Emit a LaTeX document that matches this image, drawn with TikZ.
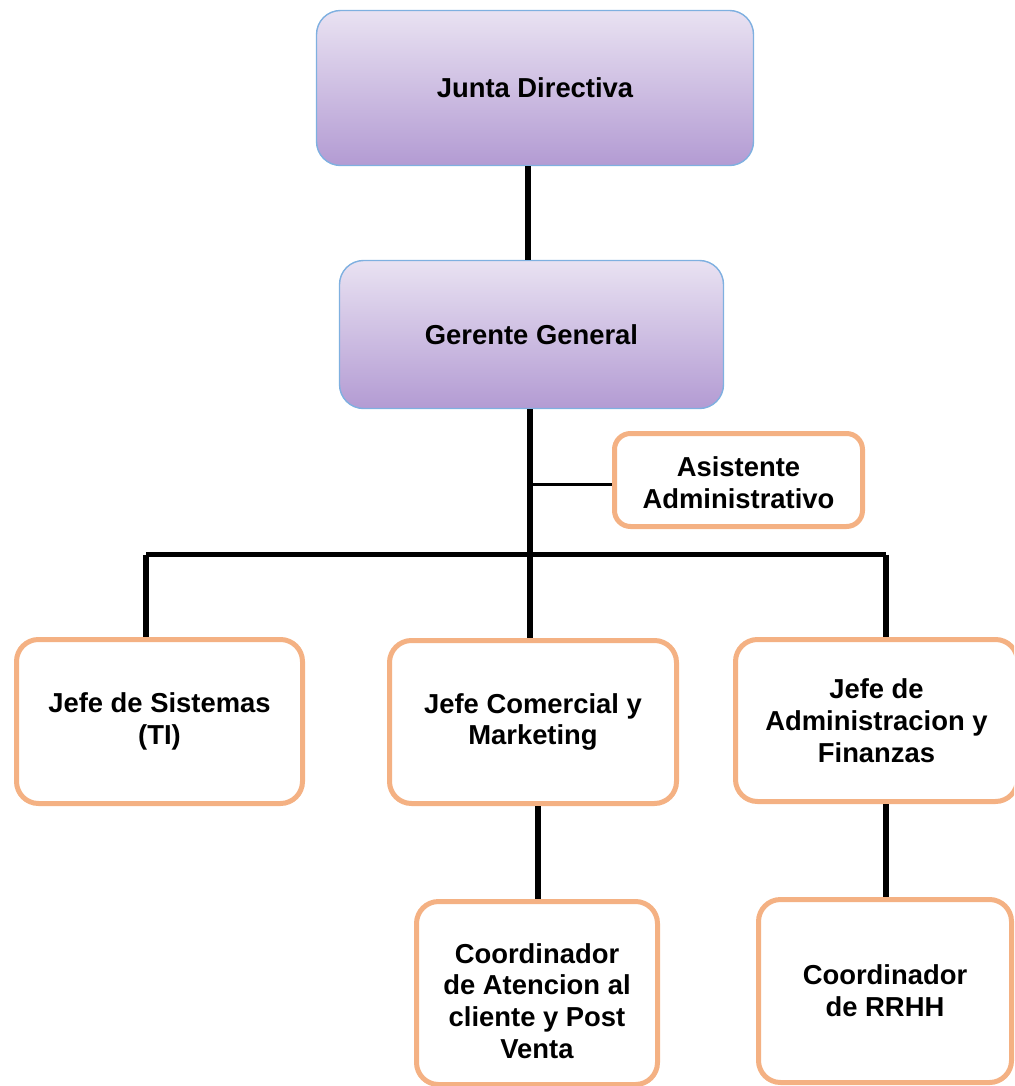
\documentclass[tikz,border=0pt]{standalone}
\usepackage{fontspec}
\setmainfont{Liberation Sans}
\definecolor{orgborder}{HTML}{F4B183}
\definecolor{bluborder}{HTML}{7FB0E0}
\definecolor{purtop}{HTML}{E9E2F2}
\definecolor{purbot}{HTML}{B39BD3}
\begin{document}
\begin{tikzpicture}[x=1pt,y=-1pt,
  txt/.style={font=\bfseries\fontsize{27.4}{31.8}\selectfont, align=center, inner sep=0pt},
  topbox/.style={txt, draw=bluborder, line width=1.4pt, rounded corners=24pt, top color=purtop, bottom color=purbot},
  orgbox/.style={txt, draw=orgborder, line width=5pt, rounded corners=22pt, fill=white},
  conn/.style={line width=5.5pt, black},
  thinconn/.style={line width=3pt, black}]
\useasboundingbox (0,0) rectangle (1014,1086);
\clip (0,0) rectangle (1014,1086);
\node[topbox, minimum width=437pt, minimum height=155pt] (J) at (535,88) {Junta Directiva};
\node[topbox, minimum width=384pt, minimum height=148pt] (G) at (531.5,334.5) {Gerente General};
\node[orgbox, rounded corners=16pt, minimum width=248pt, minimum height=93pt] (A) at (738.5,480) {\rule{0pt}{26pt}Asistente\\Administrativo};
\node[orgbox, minimum width=286pt, minimum height=164pt] (S) at (159.5,721.5) {Jefe de Sistemas\\(TI)};
\node[orgbox, minimum width=287pt, minimum height=163pt] (C) at (533,722) {Jefe Comercial y\\Marketing};
\node[orgbox, minimum width=282pt, minimum height=162pt] (D) at (876.5,720.5) {Jefe de\\Administracion y\\Finanzas};
\node[orgbox, minimum width=241pt, minimum height=183pt] (E) at (537,993) {\rule{0pt}{36pt}Coordinador\\de Atencion al\\cliente y Post\\Venta};
\node[orgbox, minimum width=253pt, minimum height=183pt] (R) at (885,991) {Coordinador\\de RRHH};
\coordinate (jx) at (528,0);
\coordinate (mx) at (530,0);
\coordinate (bus) at (0,554.5);
\coordinate (ax) at (0,484);
\coordinate (sx) at (146,0);
\coordinate (dx) at (886,0);
\coordinate (cx) at (538,0);
\draw[conn] (J.south -| jx) -- (G.north -| jx);
\draw[conn] (G.south -| mx) -- (C.north -| mx);
\draw[thinconn] (ax -| mx) -- (A.west |- ax);
\draw[conn] (bus -| sx) -- (bus -| dx);
\draw[conn] (bus -| sx) -- (S.north -| sx);
\draw[conn] (bus -| dx) -- (D.north -| dx);
\draw[conn] (C.south -| cx) -- (E.north -| cx);
\draw[conn] (D.south -| dx) -- (R.north -| dx);
\end{tikzpicture}
\end{document}
